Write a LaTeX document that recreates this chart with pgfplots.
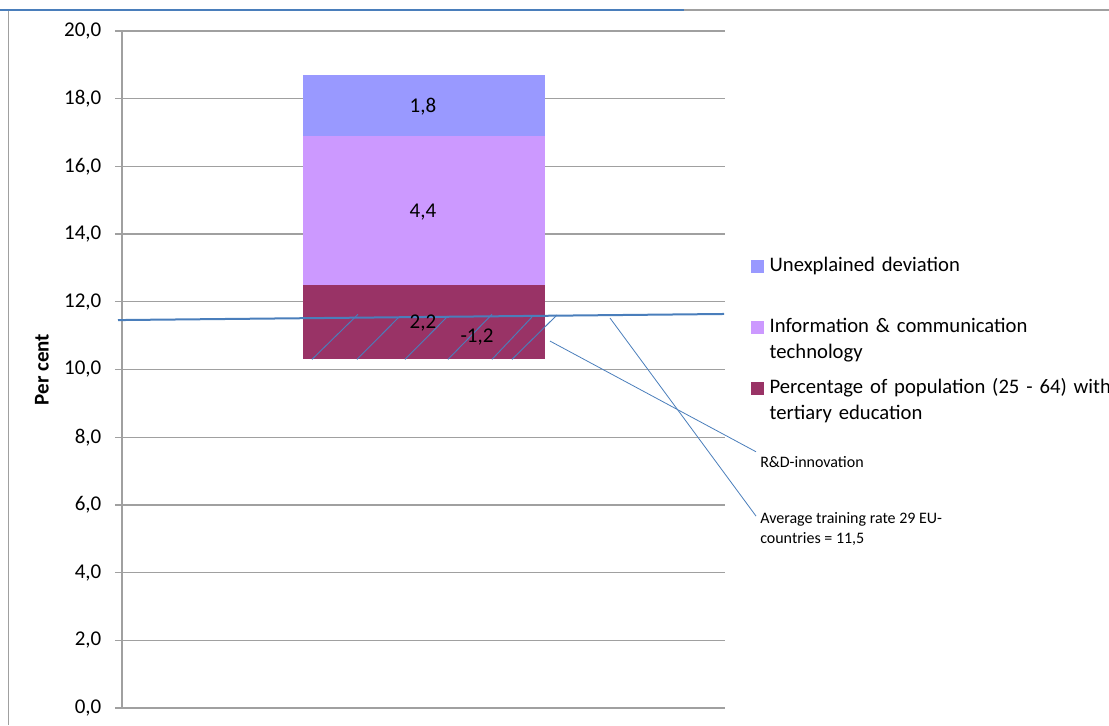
\documentclass[border=0pt]{standalone}
\usepackage{pgfplots}
\pgfplotsset{compat=1.18}
\usetikzlibrary{calc}
\usepackage{fontspec}
\setmainfont{Carlito}
\definecolor{unexp}{HTML}{9999FF}
\definecolor{ict}{HTML}{CC99FF}
\definecolor{tert}{HTML}{993366}
\definecolor{xlblue}{HTML}{4A7EBB}
\definecolor{gridgray}{HTML}{A0A0A0}
\newcommand{\mainfs}{\fontsize{15.75}{19}\selectfont}
\newcommand{\legfs}{\fontsize{15.5}{19}\selectfont}
\newcommand{\smallfs}{\fontsize{12}{14.4}\selectfont}
\begin{document}
\begin{tikzpicture}[x=0.75pt,y=0.75pt,font=\mainfs]
\pgfplotsset{
  myaxis/.style={
    scale only axis,
    width=452.25pt, height=507.75pt,
    xmin=122, xmax=725, ymin=0, ymax=20,
    clip=false,
  }
}
\begin{axis}[myaxis,
  axis x line=none, axis y line*=left,
  y axis line style={gridgray, line width=0.9pt},
  ytick={0,2,...,20},
  ymajorgrids, grid style={gridgray, line width=0.9pt},
  tick align=outside, major tick length=5.25pt,
  ytick style={gridgray, line width=0.9pt},
  yticklabel={\mainfs\pgfmathprintnumber[fixed,fixed zerofill,precision=1,use comma,assume math mode=true]{\tick}},
  yticklabel style={font=\mainfs, xshift=-6.75pt},
  ylabel={\bfseries Per cent},
  ylabel style={at={(axis description cs:-0.1327,0.5)}, anchor=center, font=\mainfs},
  ybar stacked, bar width=242,
  reverse legend,
  legend style={at={(1.0431,0.666)}, anchor=north west, draw=none, fill=none,
    inner sep=0pt, outer sep=0pt, row sep=5.75pt, column sep=4.5pt,
    nodes={inner sep=0pt, font=\legfs, text width=300pt, align=left,
      text height=11pt, text depth=29pt}},
  legend cell align=left,
  legend image code/.code={\fill[#1] (0pt,8.25pt) rectangle (9.5pt,17.75pt);},
]
\coordinate (O) at (rel axis cs:0,0);
\addplot[draw=none, fill=none, forget plot] coordinates {(424,10.3)};
\addplot[fill=tert, draw=none] coordinates {(424,2.2)};
\addplot[fill=ict, draw=none] coordinates {(424,4.4)};
\addplot[fill=unexp, draw=none] coordinates {(424,1.8)};
\legend{%
  Percentage of population (25 - 64) with\\tertiary education,
  Information \& communication\\technology,
  Unexplained deviation}
\end{axis}
\begin{axis}[myaxis, hide axis]
% hatching of the R&D-innovation segment (-1,2)
\addplot[xlblue, line width=0.7pt, forget plot] coordinates {(312,10.3) (358,11.63)};
\addplot[xlblue, line width=0.7pt, forget plot] coordinates {(357,10.3) (399,11.55)};
\addplot[xlblue, line width=0.7pt, forget plot] coordinates {(405,10.3) (448,11.58)};
\addplot[xlblue, line width=0.7pt, forget plot] coordinates {(448,10.3) (492,11.63)};
\addplot[xlblue, line width=0.7pt, forget plot] coordinates {(492,10.3) (532,11.55)};
\addplot[xlblue, line width=0.7pt, forget plot] coordinates {(512,10.3) (557,11.61)};
% average training rate line
\addplot[xlblue, line width=1.5pt, forget plot] coordinates {(118,11.46) (724,11.64)};
% leader lines
\addplot[xlblue, line width=0.6pt, forget plot] coordinates {(550,10.84) (756,7.57)};
\addplot[xlblue, line width=0.6pt, forget plot] coordinates {(610,11.52) (756,5.67)};
% labels
\node[font=\mainfs] at (axis cs:423,17.75) {1,8};
\node[font=\mainfs] at (axis cs:423,14.65) {4,4};
\node[font=\mainfs] at (axis cs:423,11.37) {2,2};
\node[font=\mainfs] at (axis cs:477,10.96) {-1,2};
\node[font=\smallfs, anchor=west, inner sep=0pt] at (axis cs:760,7.27) {R\&D-innovation};
\node[font=\smallfs, anchor=west, inner sep=0pt, align=left] at (axis cs:760,5.29) {Average training rate 29 EU-\\countries = 11,5};
\end{axis}
% chart frame
\draw[gridgray, line width=0.9pt] ($(O)+(-113.5,-17)$) -- ($(O)+(-113.5,698)$) -- ($(O)+(987,698)$);
\draw[xlblue, line width=1.6pt] ($(O)+(-122,698)$) -- ($(O)+(562,698)$);
\pgfresetboundingbox
\useasboundingbox ($(O)+(-122,-17)$) rectangle ($(O)+(987,708)$);
\end{tikzpicture}
\end{document}
